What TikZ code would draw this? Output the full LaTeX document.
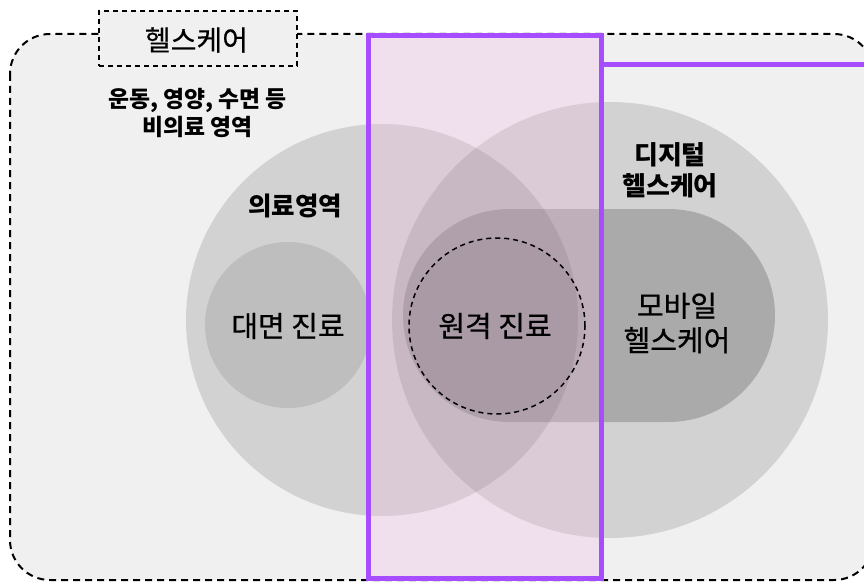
\documentclass[tikz,border=0pt]{standalone}
\usepackage{fontspec}
\setmainfont{Noto Sans CJK KR}
\newfontfamily\medfont{Noto Sans CJK KR}[FakeBold=0.6]
\usetikzlibrary{shapes.misc}
\definecolor{bggray}{RGB}{240,240,240}
\definecolor{violetline}{RGB}{166,77,255}
\definecolor{pinkfill}{RGB}{240,187,227}
\tikzset{
  graydisc/.style={circle, fill=black, fill opacity=#1, draw=none, inner sep=0pt},
  lbl/.style={text=black, align=center, inner sep=0pt},
  dashline/.style={draw=black, dash pattern=on 7pt off 5pt, line width=2pt},
}
\begin{document}
\begin{tikzpicture}[x=1pt, y=-1pt]
\useasboundingbox (0,0) rectangle (864,583);
% outer healthcare area
\draw[dashline, fill=bggray, rounded corners=40pt] (10,34) rectangle (874,580);
% medical circle
\node[graydisc=0.12, minimum size=392pt] (med) at (382,320) {};
% digital healthcare circle
\node[graydisc=0.12, minimum size=436pt] (dig) at (610,320) {};
% face-to-face circle
\node[graydisc=0.095, minimum size=166pt] (face) at (288,325) {};
% mobile healthcare pill
\node[fill=black, fill opacity=0.19, rounded rectangle, minimum width=372pt, minimum height=213pt, inner sep=0pt] (mob) at (589,315.5) {};
% remote circle fill
\node[graydisc=0.06, minimum size=176pt] (rem) at (497,326) {};
% purple band
\node[draw=violetline, line width=5pt, fill=pinkfill, fill opacity=0.3, minimum width=233pt, minimum height=542pt, inner sep=0pt] (band) at (484.5,307) {};
\coordinate (edge) at (866,65);
\draw[violetline, line width=5pt] (band.east |- edge) -- (edge);
% remote dashed outline
\draw[black, dash pattern=on 5pt off 4pt, line width=1.5pt] (rem.center) circle (88pt);
% title box
\node[draw=black, dash pattern=on 5pt off 4pt, line width=1.5pt, fill=bggray, minimum width=198pt, minimum height=55pt, inner sep=0pt] (title) at (198,38.5) {};
\node[lbl, font=\medfont\fontsize{28}{32}\selectfont] (titlel) at (196.5,40) {헬스케어};
% labels
\node[lbl, font=\bfseries\fontsize{22.8}{27.5}\selectfont] (nonmed) at (197.5,113) {운동, 영양, 수면 등\\비의료 영역};
\node[lbl, font=\bfseries\fontsize{25.5}{30}\selectfont] (medl) at (295,206) {의료영역};
\node[lbl, font=\bfseries\fontsize{26}{31}\selectfont] (digl) at (670,170) {디지털\\헬스케어};
\node[lbl, font=\medfont\fontsize{29}{34.5}\selectfont] (facel) at (288,326) {대면 진료};
\node[lbl, font=\medfont\fontsize{29}{34.5}\selectfont] (reml) at (495,326) {원격 진료};
\node[lbl, font=\medfont\fontsize{29}{34.5}\selectfont] (mobl) at (677,323) {모바일\\헬스케어};
\end{tikzpicture}
\end{document}
